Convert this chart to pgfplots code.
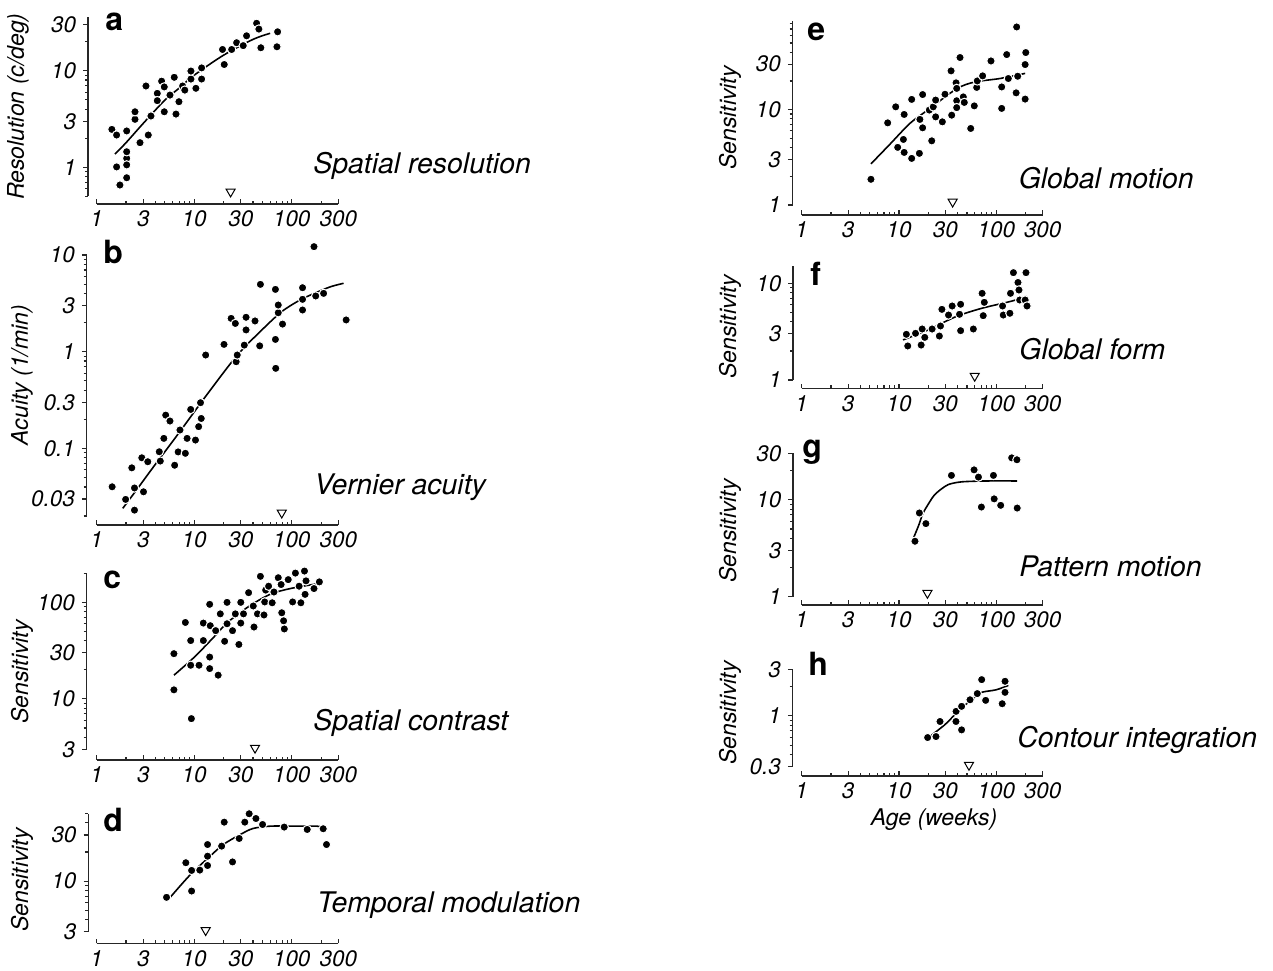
\documentclass[border=0pt]{standalone}
\usepackage{pgfplots}
\pgfplotsset{compat=1.18}
\usepackage{fontspec}
\setmainfont{TeX Gyre Heros}
\pgfplotsset{every axis/.append style={
    scale only axis, xmode=log, ymode=log, xmin=1, xmax=300,
    axis lines=left, axis line style={-, line width=0.75pt, black!85},
    xtick={1,3,10,30,100,300}, xticklabels={1,3,10,30,100,300},
    minor xtick={2,4,5,6,7,8,9,20,40,50,60,70,80,90,200},
    xtick align=inside, ytick align=outside,
    major tick length=2.4pt, minor tick length=1.5pt,
    tick style={line width=0.6pt, black!85},
    tick label style={font=\fontsize{11.2}{12}\selectfont\itshape},
    clip=false, anchor=south west}}
\begin{document}
\begin{tikzpicture}
\useasboundingbox (0,0) rectangle (636.5pt,-485pt);
% ---------------- a
\begin{axis}[at={(48.35pt,-98.2pt)}, width=120.8pt, height=89.7pt,
  ymin=0.5, ymax=36, ytick={1,3,10,30}, yticklabels={1,3,10,30},
  minor ytick={0.5,0.6,0.7,0.8,0.9,2,4,5,6,7,8,9,20},
  axis x line shift=3.8pt, axis y line shift=4.35pt]
\addplot[no marks, smooth, line width=0.8pt, black] coordinates {(1.54,1.37)(2,1.8)(3,2.85)(5,4.97)(7,6.6)(10,9.0)(20,14.5)(40,21.1)(60,24.4)};
\addplot[only marks, mark=*, mark size=2.1pt, mark options={fill=black, draw=white, line width=0.5pt}] coordinates {(1.43,2.47)(1.60,2.16)(2.03,2.38)(1.60,1.01)(1.73,0.656)(2.03,0.78)(2.03,1.24)(2.03,1.45)(2.03,1.06)(2.47,3.14)(2.47,3.76)(2.78,1.80)(3.2,6.95)(3.38,2.16)(3.6,3.4)(4.18,5.83)(4.18,4.9)(4.63,7.8)(4.93,6.8)(4.93,3.76)(5.64,5.6)(6.24,8.55)(6.5,3.56)(6.97,4.78)(7.6,6.95)(8.0,6.3)(9.25,8.2)(9.25,9.93)(10.4,6.58)(11.9,8.2)(11.9,10.7)(19.5,16.6)(20.3,11.6)(24.2,16.6)(27.2,19.5)(31.8,18.2)(34.4,23)(43.6,31)(46,27)(48.2,17.3)(71.6,25.3)(70.5,17.7)};
\addplot[only marks, mark=triangle, mark size=2.6pt, mark options={rotate=180, fill=white, draw=black, line width=0.5pt}] coordinates {(23.6,0.559)};
\end{axis}
% ---------------- b
\begin{axis}[at={(48.35pt,-258pt)}, width=120.8pt, height=130.5pt,
  ymin=0.02, ymax=10, ytick={0.03,0.1,0.3,1,3,10}, yticklabels={0.03,0.1,0.3,1,3,10},
  minor ytick={0.02,0.04,0.05,0.06,0.07,0.08,0.09,0.2,0.4,0.5,0.6,0.7,0.8,0.9,2,4,5,6,7,8,9},
  axis x line shift=4.5pt, axis y line shift=5pt]
\addplot[no marks, smooth, line width=0.8pt, black] coordinates {(1.85,0.024)(2.5,0.036)(3.8,0.064)(6.8,0.14)(13.5,0.36)(27.6,0.92)(50,1.7)(79,2.6)(120,3.4)(169,4.0)(250,4.7)(340,5.1)};
\addplot[only marks, mark=*, mark size=2.1pt, mark options={fill=black, draw=white, line width=0.5pt}] coordinates {(1.44,0.0401)(1.98,0.0297)(2.29,0.063)(2.44,0.039)(2.44,0.023)(2.9,0.08)(3.02,0.0356)(3.34,0.0728)(4.38,0.0924)(4.49,0.074)(4.88,0.127)(5.1,0.221)(5.64,0.192)(6.3,0.067)(6.84,0.092)(7.14,0.155)(8.11,0.089)(8.45,0.127)(9.2,0.253)(10.3,0.122)(11.1,0.168)(11.6,0.297)(11.8,0.204)(13.1,0.924)(20.2,1.19)(23.9,2.21)(26.4,1.96)(26.9,0.788)(27.6,0.924)(32.6,1.17)(34,2.27)(34,1.68)(42,2.08)(46.9,1.15)(47.7,4.97)(68,4.41)(68,1.34)(68.5,0.673)(72.7,2.53)(72.7,3.04)(80.4,1.93)(129,4.59)(129,2.7)(129,3.48)(169,12.2)(176,3.77)(212,4.01)(361,2.13)};
\addplot[only marks, mark=triangle, mark size=2.6pt, mark options={rotate=180, fill=white, draw=black, line width=0.5pt}] coordinates {(79,0.0216)};
\end{axis}
% ---------------- c
\begin{axis}[at={(48.35pt,-374.65pt)}, width=120.8pt, height=88pt,
  ymin=3, ymax=200, ytick={3,10,30,100}, yticklabels={3,10,30,100},
  minor ytick={4,5,6,7,8,9,20,40,50,60,70,80,90,200},
  axis x line shift=5.35pt, axis y line shift=5pt]
\addplot[no marks, smooth, line width=0.8pt, black] coordinates {(6.2,17.6)(10,27)(16,44)(22,62)(37,92)(61,122)(100,140)(200,158)};
\addplot[only marks, mark=*, mark size=2.1pt, mark options={fill=black, draw=white, line width=0.5pt}] coordinates {(6.19,29.4)(6.19,12.4)(8.11,61.9)(9.2,40.2)(9.2,22.3)(9.35,6.24)(11.2,22.3)(12.4,61)(12.4,40.2)(14.4,95.4)(14.4,27.1)(14.4,20.6)(14.6,57.3)(16.6,50.9)(17.6,17.6)(18.5,76)(20.5,39.5)(21.7,100)(21.7,60)(24.7,50.9)(26.4,76)(28.7,36.6)(30,100)(30,61)(32,76)(36.1,126)(40.3,91.7)(41,55.5)(44.5,76)(47.7,186)(51.9,74)(54,134)(57.9,147)(52.8,101)(63,99)(65.7,128)(72.7,180)(77.8,153)(79,78)(82.5,64.4)(83.9,53)(92,172)(102,101)(109,201)(119,147)(124,99)(135,211)(137,121)(140,167)(169,139)(192,163)};
\addplot[only marks, mark=triangle, mark size=2.6pt, mark options={rotate=180, fill=white, draw=black, line width=0.5pt}] coordinates {(42,3.1)};
\end{axis}
% ---------------- d
\begin{axis}[at={(48.35pt,-465.85pt)}, width=120.8pt, height=59.1pt,
  ymin=3, ymax=50, ytick={3,10,30}, yticklabels={3,10,30},
  minor ytick={4,5,6,7,8,9,20,40,50},
  axis x line shift=5.8pt, axis y line shift=4.2pt]
\addplot[no marks, smooth, line width=0.8pt, black] coordinates {(5.6,6.7)(9,11.5)(14,17.5)(20,24)(30,30.5)(40,35)(60,37)(100,37)(180,37)(215,35.5)};
\addplot[only marks, mark=*, mark size=2.1pt, mark options={fill=black, draw=white, line width=0.5pt}] coordinates {(5.2,6.8)(8.2,15.5)(9.4,12.9)(9.4,7.9)(11.4,13)(13.7,14.5)(13.7,18.1)(13.7,23.9)(19.1,23)(20.3,40.7)(24.7,15.8)(28.9,27.6)(33,40.7)(36.6,49.7)(42.9,44.4)(50.2,38.5)(83.7,36.2)(144,34.2)(210,34.8)(227,23.9)};
\addplot[only marks, mark=triangle, mark size=2.6pt, mark options={rotate=180, fill=white, draw=black, line width=0.5pt}] coordinates {(13.1,3.1)};
\end{axis}
% ---------------- e
\begin{axis}[at={(400.85pt,-102.5pt)}, width=120.5pt, height=92pt,
  ymin=1, ymax=85, ytick={1,3,10,30}, yticklabels={1,3,10,30},
  minor ytick={2,4,5,6,7,8,9,20,40,50,60,70,80},
  axis x line shift=5pt, axis y line shift=4.5pt]
\addplot[no marks, smooth, line width=0.8pt, black] coordinates {(5.15,2.7)(8,4.3)(13,7.2)(20,10)(39,16.5)(60,19.5)(109,21.2)(198,24)};
\addplot[only marks, mark=*, mark size=2.1pt, mark options={fill=black, draw=white, line width=0.5pt}] coordinates {(5.15,1.86)(7.65,7.27)(9.25,10.7)(9.7,4.02)(11.3,8.9)(11.1,4.87)(11.3,3.56)(13.5,12.8)(13.5,3.08)(16.2,3.48)(16.4,7.9)(17.5,14.4)(17.5,6.45)(20.5,9.9)(21.7,4.71)(22.5,10.7)(23.8,12.6)(23.8,8.4)(27.9,7.45)(29.7,14.5)(34.3,25.5)(34.8,8.75)(38.6,19.1)(39.2,16.7)(39.2,12.4)(39.2,10.5)(42.4,35.2)(45.8,13.6)(46.9,11.9)(54.6,6.35)(59.4,10.95)(62.9,17.1)(63.8,20)(72.4,22.6)(88.2,32.4)(113.6,17.3)(113.6,10.3)(128,37.8)(133,21.2)(162,73.6)(160,15)(166,22.4)(201,39.7)(198,29.7)(198,12.9)};
\addplot[only marks, mark=triangle, mark size=2.6pt, mark options={rotate=180, fill=white, draw=black, line width=0.5pt}] coordinates {(35.6,1.08)};
\end{axis}
% ---------------- f
\begin{axis}[at={(400.85pt,-190pt)}, width=120.5pt, height=56.85pt,
  ymin=1, ymax=15, ytick={1,3,10}, yticklabels={1,3,10},
  minor ytick={2,4,5,6,7,8,9},
  axis x line shift=4.15pt, axis y line shift=4.25pt]
\addplot[no marks, smooth, line width=0.8pt, black] coordinates {(11,2.6)(20,3.3)(38,4.5)(70,5.5)(140,6.5)(207,7.3)};
\addplot[only marks, mark=*, mark size=2.1pt, mark options={fill=black, draw=white, line width=0.5pt}] coordinates {(11.9,2.97)(12.3,2.25)(14.8,3.04)(16.9,2.3)(17.3,3.37)(18.4,2.76)(21.9,3.37)(26,2.85)(26.7,3.62)(27.6,5.38)(32.3,4.7)(35.2,5.83)(41.9,4.78)(43,6.07)(43,3.24)(58.1,3.37)(71.5,7.88)(75.3,6.36)(73.4,4.63)(116,5.83)(118,4.7)(138,4.9)(140,7.88)(150,12.9)(167,10.2)(171,8.53)(174,6.72)(202,12.9)(198,6.72)(207,5.83)};
\addplot[only marks, mark=triangle, mark size=2.6pt, mark options={rotate=180, fill=white, draw=black, line width=0.5pt}] coordinates {(60,1.1)};
\end{axis}
% ---------------- g
\begin{axis}[at={(400.85pt,-298.35pt)}, width=120.5pt, height=71.65pt,
  ymin=1, ymax=30, ytick={1,3,10,30}, yticklabels={1,3,10,30},
  minor ytick={2,4,5,6,7,8,9,20},
  axis x line shift=4.15pt, axis y line shift=4.25pt]
\addplot[no marks, smooth, line width=0.8pt, black] coordinates {(14.2,4.1)(16,5.5)(17.6,7.2)(20,9)(23,11.1)(27,12.8)(32,14.3)(40,15.1)(50,15.4)(80,15.6)(164,15.6)};
\addplot[only marks, mark=*, mark size=2.1pt, mark options={fill=black, draw=white, line width=0.5pt}] coordinates {(14.6,3.73)(16.2,7.3)(18.9,5.67)(34.6,17.8)(59.1,20.3)(65.6,17.1)(70.3,8.4)(93.5,17.8)(95.1,10.2)(111,8.75)(144,27)(163,25.8)(164,8.2)};
\addplot[only marks, mark=triangle, mark size=2.6pt, mark options={rotate=180, fill=white, draw=black, line width=0.5pt}] coordinates {(19.6,1.09)};
\end{axis}
% ---------------- h
\begin{axis}[at={(400.85pt,-383.35pt)}, width=120.5pt, height=48.7pt,
  ymin=0.3, ymax=3, ytick={0.3,1,3}, yticklabels={0.3,1,3},
  minor ytick={0.4,0.5,0.6,0.7,0.8,0.9,2},
  axis x line shift=4.65pt, axis y line shift=4.5pt]
\addplot[no marks, smooth, line width=0.8pt, black] coordinates {(21,0.62)(30,0.82)(42,1.15)(62,1.6)(72,1.75)(100,1.85)(133,2.05)};
\addplot[only marks, mark=*, mark size=2.1pt, mark options={fill=black, draw=white, line width=0.5pt}] coordinates {(19.7,0.598)(24,0.612)(26.4,0.874)(38.6,1.11)(38.5,0.874)(44,1.25)(44,0.717)(53.7,1.46)(63.8,1.69)(70.8,2.35)(77.8,1.44)(123,2.26)(123,1.74)(115,1.33)};
\addplot[only marks, mark=triangle, mark size=2.6pt, mark options={rotate=180, fill=white, draw=black, line width=0.5pt}] coordinates {(52.4,0.312)};
\end{axis}
% ---------------- texts
\begin{scope}[every node/.style={anchor=base west, inner sep=0pt, font=\fontsize{16}{16}\selectfont\bfseries}]
\node at (52.5pt,-15pt) {a};
\node at (51.5pt,-131.5pt) {b};
\node at (51.5pt,-294pt) {c};
\node at (51.5pt,-415.85pt) {d};
\node at (403.5pt,-20pt) {e};
\node at (405pt,-142.5pt) {f};
\node at (401pt,-228.5pt) {g};
\node at (404pt,-337.5pt) {h};
\end{scope}
\begin{scope}[every node/.style={anchor=base west, inner sep=0pt, font=\fontsize{14.2}{16}\selectfont\itshape}]
\node at (156.5pt,-86.5pt) {Spatial resolution};
\node at (157pt,-247pt) {Vernier acuity};
\node at (156.5pt,-365pt) {Spatial contrast};
\node at (158.3pt,-456pt) {Temporal modulation};
\node at (509.2pt,-94pt) {Global motion};
\node at (509.5pt,-179.5pt) {Global form};
\node at (509.5pt,-288pt) {Pattern motion};
\node at (508.5pt,-373.5pt) {Contour integration};
\end{scope}
\begin{scope}[every node/.style={anchor=center, inner sep=0pt, rotate=90, font=\fontsize{11.5}{13}\selectfont\itshape}]
\node at (9pt,-53.25pt) {Resolution (c/deg)};
\node at (11pt,-187.5pt) {Acuity (1/min)};
\node at (11pt,-336pt) {Sensitivity};
\node at (11pt,-440pt) {Sensitivity};
\node at (365pt,-59pt) {Sensitivity};
\node at (365pt,-163.5pt) {Sensitivity};
\node at (365pt,-265.5pt) {Sensitivity};
\node at (365pt,-356.5pt) {Sensitivity};
\end{scope}
\node[anchor=center, inner sep=0pt, font=\fontsize{11.5}{13}\selectfont\itshape] at (467pt,-410pt) {Age (weeks)};
\end{tikzpicture}
\end{document}
